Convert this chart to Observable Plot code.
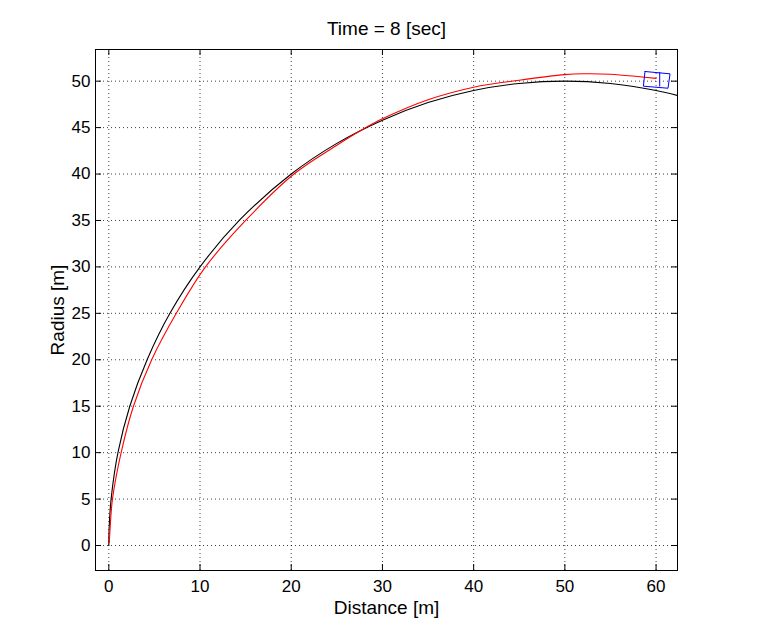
<!DOCTYPE html>
<html>
<head>
<meta charset="utf-8">
<script src="https://cdn.jsdelivr.net/npm/d3@7"></script>
<script src="https://cdn.jsdelivr.net/npm/@observablehq/plot@0.6"></script>
<style>
  html, body { margin: 0; padding: 0; background: #fff; }
</style>
</head>
<body>
<div id="chart"></div>
<script>
const titleText = "Time = 8 [sec]";
const xLabel = "Distance [m]";
const yLabel = "Radius [m]";
const xTicks = [0, 10, 20, 30, 40, 50, 60];
const yTicks = [0, 5, 10, 15, 20, 25, 30, 35, 40, 45, 50];

// reference path (black)
const blackX = [0, 0.04, 0.25, 1.0, 2.3, 4.2, 6.7, 10, 14.3, 20, 25, 30, 35, 40, 45, 50, 55, 60, 62.4];
const blackY = [0, 2, 5, 10, 15, 20, 25, 30, 35, 40, 43.3, 45.8, 47.7, 49, 49.75, 50, 49.75, 49, 48.45];

// vehicle path (red)
const redX = [0.05, 0.15, 0.4, 1.35, 2.7, 4.7, 7.4, 10.6, 15, 20.3, 25, 28, 30, 35, 40, 45, 50, 52, 55, 58, 60];
const redY = [0.3, 2, 5, 10, 15, 20, 25, 30, 35, 40, 43.1, 44.9, 45.95, 48.0, 49.35, 50.1, 50.7, 50.8, 50.75, 50.5, 50.3];

// vehicle outline (blue)
const boxX = [58.79, 61.53, 61.31, 58.61, 58.79];
const boxY = [51.04, 50.79, 49.24, 49.46, 51.04];
const axleX = [60.4, 60.4];
const axleY = [50.95, 49.47];

const black = blackX.map((x, i) => ({x, y: blackY[i]}));
const red = redX.map((x, i) => ({x, y: redY[i]}));
const box = boxX.map((x, i) => ({x, y: boxY[i]}));
const axle = axleX.map((x, i) => ({x, y: axleY[i]}));

const W = 767, H = 634, mL = 95, mR = 90, mT = 49, mB = 64;
const fw = W - mL - mR, fh = H - mT - mB;
const tick = 6;

const chart = Plot.plot({
  width: W,
  height: H,
  marginLeft: mL,
  marginRight: mR,
  marginTop: mT,
  marginBottom: mB,
  style: {fontFamily: "'Liberation Sans', Arial, Helvetica, sans-serif", fontSize: "17px", background: "#fff", color: "#000"},
  x: {domain: [-1.46, 62.35]},
  y: {domain: [-2.69, 53.41]},
  marks: [
    Plot.gridX(xTicks, {stroke: "#000", strokeOpacity: 0.75, strokeDasharray: "1,3"}),
    Plot.gridY(yTicks, {stroke: "#000", strokeOpacity: 0.75, strokeDasharray: "1,3"}),
    Plot.line(black, {x: "x", y: "y", stroke: "#000", strokeWidth: 1.1, curve: "catmull-rom", clip: true}),
    Plot.line(red, {x: "x", y: "y", stroke: "#ff0000", strokeWidth: 1.1, curve: "catmull-rom", clip: true}),
    Plot.line(box, {x: "x", y: "y", stroke: "#0000ff", strokeWidth: 1}),
    Plot.line(axle, {x: "x", y: "y", stroke: "#0000ff", strokeWidth: 1}),
    Plot.tickX(xTicks, {x: d => d, stroke: "#000", insetTop: fh - tick}),
    Plot.tickX(xTicks, {x: d => d, stroke: "#000", insetBottom: fh - tick}),
    Plot.tickY(yTicks, {y: d => d, stroke: "#000", insetRight: fw - tick}),
    Plot.tickY(yTicks, {y: d => d, stroke: "#000", insetLeft: fw - tick}),
    Plot.frame({stroke: "#000"}),
    Plot.axisX({ticks: xTicks, tickSize: 0, tickPadding: 9, label: null, fontSize: 17}),
    Plot.axisY({ticks: yTicks, tickSize: 0, tickPadding: 5, label: null, fontSize: 17}),
    Plot.text([titleText], {frameAnchor: "top", lineAnchor: "middle", textAnchor: "middle", dy: -21, fontSize: 19, fill: "#000"}),
    Plot.text([xLabel], {frameAnchor: "bottom", lineAnchor: "middle", textAnchor: "middle", dy: 37, fontSize: 19, fill: "#000"}),
    Plot.text([yLabel], {frameAnchor: "left", lineAnchor: "middle", textAnchor: "middle", dx: -38, rotate: -90, fontSize: 19, fill: "#000"})
  ]
});
document.getElementById("chart").appendChild(chart);
</script>
</body>
</html>
